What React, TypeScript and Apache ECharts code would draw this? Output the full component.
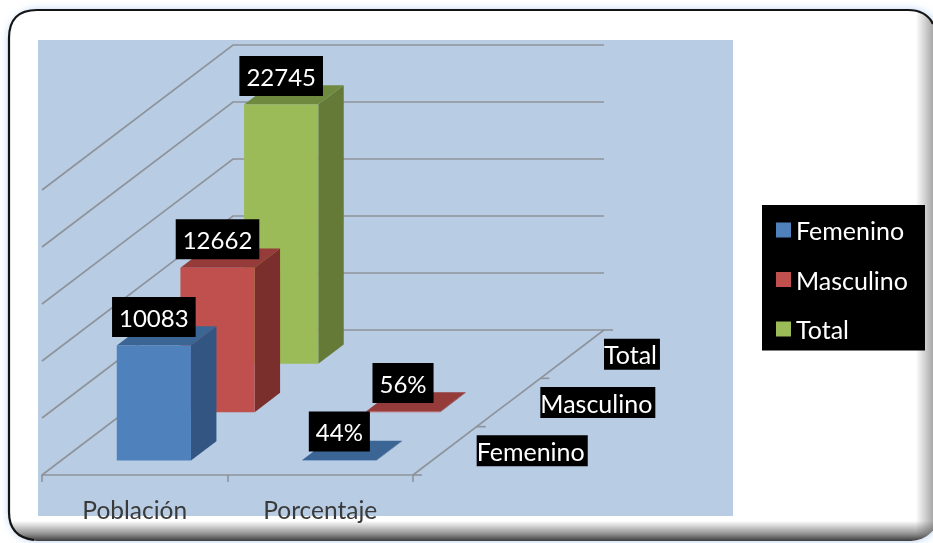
import React, { useEffect, useRef } from "react";
import * as echarts from "echarts";

const categories = ["Población", "Porcentaje"];
const depthCategories = ["Femenino", "Masculino", "Total"];
const femeninoValues: number[][] = [[0, 10083], [1, 44]];
const masculinoValues: number[][] = [[0, 12662], [1, 56]];
const totalValues: number[][] = [[0, 22745]];
const wallTicks = [0, 5000, 10000, 15000, 20000, 25000];
const depthTicks = [0, 1, 2, 3];

const FONT = "Lato";
const DEPTH_X = 191;
const DEPTH_Y = 145;
const SLOT = 1 / depthCategories.length;

const palette = [
  { front: "#4f81bd", side: "#325581", top: "#3b6594" },
  { front: "#c0504d", side: "#7a2f2d", top: "#953b39" },
  { front: "#9bbb59", side: "#667a38", top: "#6f8a3f" },
];

echarts.graphic.registerShape(
  "frameEdge",
  echarts.graphic.extendPath("M34 540 Q9 537 9 512 L9 38 Q9 10 37 10 L908 10 Q926 10 933 24", {} as any) as any
);

function barRender(depth: number) {
  return (params: any, api: any) => {
    const cat = api.value(0);
    const val = api.value(1);
    const base = api.coord([cat, 0]);
    const tip = api.coord([cat, val]);
    const band = api.size([1, 0])[0];
    const w = band * 0.4;
    const f = (depth + 0.3) * SLOT;
    const b = (depth + 0.7) * SLOT;
    const x0 = base[0] - w / 2 + DEPTH_X * f;
    const x1 = x0 + w;
    const yb = base[1] - DEPTH_Y * f;
    const yt = tip[1] - DEPTH_Y * f;
    const dx = DEPTH_X * (b - f);
    const dy = DEPTH_Y * (b - f);
    const c = palette[depth];
    const label = cat === 0 ? String(val) : `${val}%`;
    return {
      type: "group",
      children: [
        { type: "polygon", shape: { points: [[x1, yb], [x1 + dx, yb - dy], [x1 + dx, yt - dy], [x1, yt]] }, style: { fill: c.side } },
        { type: "polygon", shape: { points: [[x0, yt], [x1, yt], [x1 + dx, yt - dy], [x0 + dx, yt - dy]] }, style: { fill: c.top } },
        { type: "rect", shape: { x: x0, y: yt, width: w, height: Math.max(yb - yt, 0.6) }, style: { fill: c.front } },
        {
          type: "text",
          style: {
            text: label,
            x: x0 + w / 2,
            y: yt - 28.5,
            align: "center",
            verticalAlign: "middle",
            fill: "#fff",
            font: `24px ${FONT}`,
            backgroundColor: "#000",
            padding: [8, 7, 8, 7],
          },
        },
      ],
    };
  };
}

function wallRender(params: any, api: any) {
  const p = api.coord([0, api.value(0)]);
  const band = api.size([1, 0])[0];
  const x = p[0] - band / 2;
  return {
    type: "polyline",
    shape: {
      points: [
        [x, p[1]],
        [x + DEPTH_X, p[1] - DEPTH_Y],
        [x + DEPTH_X + band * 2, p[1] - DEPTH_Y],
      ],
    },
    style: { stroke: "#8e9299", lineWidth: 1.6, fill: "none" },
  };
}

function depthRender(params: any, api: any) {
  const i = api.value(0);
  const p = api.coord([1, 0]);
  const band = api.size([1, 0])[0];
  const ex = p[0] + band / 2;
  const tx = ex + DEPTH_X * i * SLOT;
  const ty = p[1] - DEPTH_Y * i * SLOT;
  const children: any[] = [
    { type: "line", shape: { x1: tx, y1: ty, x2: tx + 9, y2: ty }, style: { stroke: "#8e9299", lineWidth: 1.6 } },
  ];
  if (i === 0) {
    children.push({
      type: "line",
      shape: { x1: ex, y1: p[1], x2: ex + DEPTH_X, y2: p[1] - DEPTH_Y },
      style: { stroke: "#8e9299", lineWidth: 1.6 },
    });
  }
  if (i < depthCategories.length) {
    children.push({
      type: "text",
      style: {
        text: depthCategories[i],
        x: ex + DEPTH_X * (i + 1) * SLOT,
        y: p[1] - DEPTH_Y * (i + 0.5) * SLOT,
        align: "left",
        verticalAlign: "middle",
        fill: "#fff",
        font: `25px ${FONT}`,
        backgroundColor: "#000",
        padding: [3, 3, 3, 0],
      },
    });
  }
  return { type: "group", children };
}

const framePlate = { x: 9, y: 10, width: 930, height: 531, r: 28 };

export default function App() {
  const ref = useRef<HTMLDivElement>(null);
  useEffect(() => {
    const chart = echarts.init(ref.current!, undefined, { renderer: "svg" });
    chart.setOption({
      animation: false,
      backgroundColor: "#ffffff",
      graphic: [
        {
          type: "rect",
          z: -30,
          shape: framePlate,
          style: { fill: "#ffffff", shadowBlur: 9, shadowColor: "rgba(110,165,235,0.55)" },
        },
        {
          type: "rect",
          z: -29,
          shape: framePlate,
          style: {
            fill: {
              type: "linear", x: 0, y: 0, x2: 1, y2: 0,
              colorStops: [
                { offset: 0.975, color: "rgba(110,110,110,0)" },
                { offset: 0.992, color: "rgba(110,110,110,0.55)" },
                { offset: 1, color: "rgba(110,110,110,0.8)" },
              ],
            },
          },
        },
        {
          type: "rect",
          z: -28,
          shape: framePlate,
          style: {
            fill: {
              type: "linear", x: 0, y: 0, x2: 0, y2: 1,
              colorStops: [
                { offset: 0.962, color: "rgba(85,85,85,0)" },
                { offset: 0.985, color: "rgba(85,85,85,0.6)" },
                { offset: 1, color: "rgba(60,60,60,1)" },
              ],
            },
          },
        },
        {
          type: "frameEdge",
          z: -27,
          style: { fill: "none", stroke: "#141414", lineWidth: 2.2 },
        },
        {
          type: "rect",
          z: -26,
          shape: { x: 38, y: 40, width: 695, height: 476 },
          style: { fill: "#b8cce4" },
        },
      ],
      grid: { left: 42, top: 190, width: 371, height: 285, containLabel: false },
      xAxis: {
        type: "category",
        data: categories,
        z: 3,
        axisLine: { lineStyle: { color: "#8e9299", width: 1.6 } },
        axisTick: { show: true, length: 7, alignWithLabel: false, lineStyle: { color: "#8e9299", width: 1.6 } },
        axisLabel: { color: "#3a3a3a", fontFamily: FONT, fontSize: 24.5, margin: 22, interval: 0 },
        splitLine: { show: false },
      },
      yAxis: { type: "value", min: 0, max: 25000, interval: 5000, show: false },
      legend: {
        left: 762,
        top: 205,
        orient: "vertical",
        backgroundColor: "#000",
        padding: [12.5, 17, 9, 14],
        itemWidth: 15,
        itemHeight: 15,
        itemGap: 24.5,
        selectedMode: false,
        textStyle: { color: "#fff", fontFamily: FONT, fontSize: 25, lineHeight: 24 },
        data: depthCategories.map((name) => ({ name, icon: "rect" })),
      },
      series: [
        { type: "custom", name: "Paredes", z: 1, data: wallTicks.map((v) => [v]), renderItem: wallRender, silent: true },
        { type: "custom", name: "Profundidad", z: 2, data: depthTicks.map((v) => [v]), renderItem: depthRender, silent: true },
        { type: "custom", name: "Total", z: 3, data: totalValues, itemStyle: { color: palette[2].front }, renderItem: barRender(2), encode: { x: 0, y: 1 } },
        { type: "custom", name: "Masculino", z: 4, data: masculinoValues, itemStyle: { color: palette[1].front }, renderItem: barRender(1), encode: { x: 0, y: 1 } },
        { type: "custom", name: "Femenino", z: 5, data: femeninoValues, itemStyle: { color: palette[0].front }, renderItem: barRender(0), encode: { x: 0, y: 1 } },
      ],
    });
    return () => chart.dispose();
  }, []);
  return <div ref={ref} style={{ position: "fixed", left: 0, top: 0, width: 933, height: 543, filter: "blur(0.5px)" }} />;
}
